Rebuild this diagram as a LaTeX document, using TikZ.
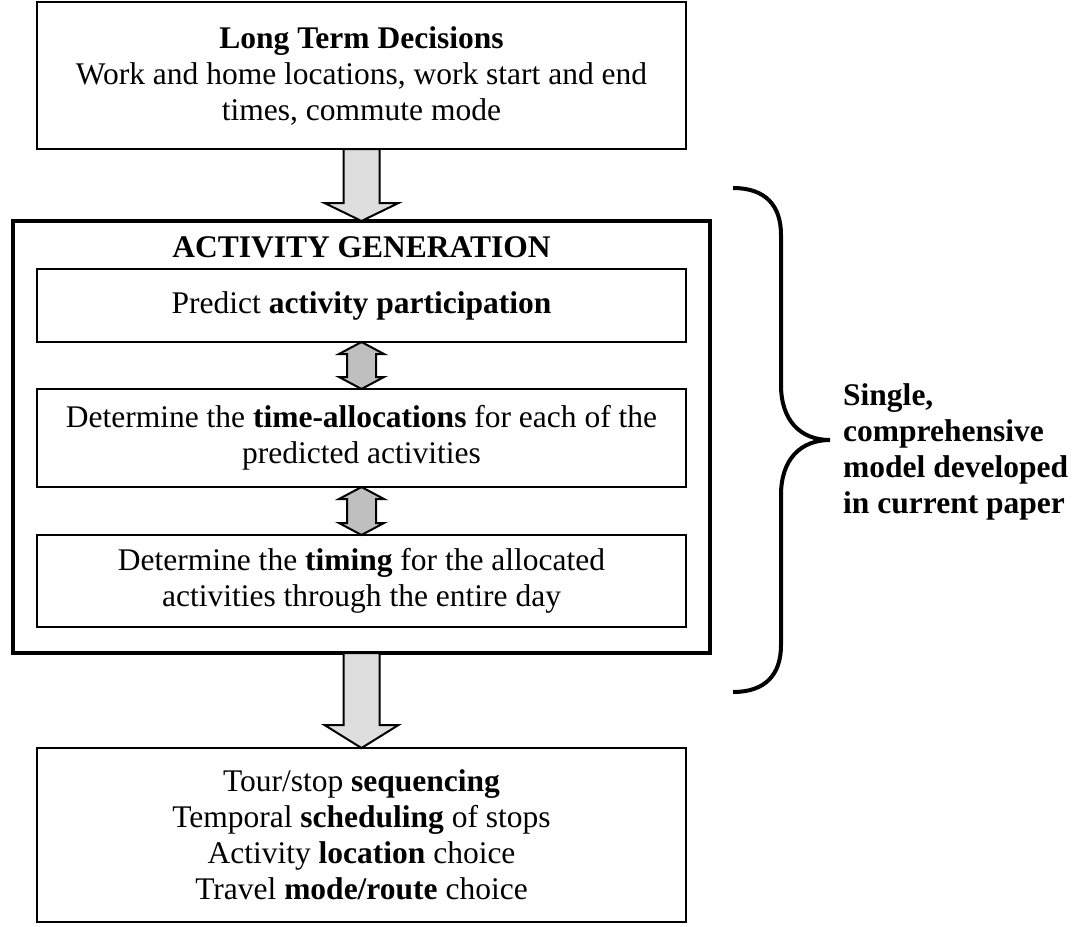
\documentclass[tikz,border=0pt]{standalone}
\usepackage{fontspec}
\setmainfont{Liberation Serif}
\usetikzlibrary{calc}
\begin{document}
\begin{tikzpicture}[x=1pt,y=-1pt,
  box/.style={draw, line width=2.2pt, outer sep=0pt, inner sep=0pt, align=center,
    font=\fontsize{31.5}{36}\selectfont},
  bigbox/.style={draw, line width=3.5pt, outer sep=0pt, inner sep=0pt},
  blockarrow/.style={draw, line width=2pt, fill=black!13, line join=miter},
  dblarrow/.style={draw, line width=2pt, fill=black!25, line join=miter},
  brace/.style={draw, line width=4pt},
  label/.style={font=\fontsize{31.5}{36}\selectfont\bfseries, align=left, inner sep=0pt}
]
\useasboundingbox (0,0) rectangle (1083,926);

\node[box, minimum width=649, minimum height=147] (top) at (361.5,75.5)
  {\textbf{Long Term Decisions}\\Work and home locations, work start and end\\times, commute mode};

\node[bigbox, minimum width=697, minimum height=432] (big) at (361.5,437) {};
\node[font=\fontsize{31.5}{36}\selectfont\bfseries, inner sep=0pt] (title) at (361.5,247) {ACTIVITY GENERATION};

\node[box, minimum width=649, minimum height=73] (s1) at (361.5,305.5)
  {Predict \textbf{activity participation}};
\node[box, minimum width=649, minimum height=98] (s2) at (361.5,438)
  {Determine the \textbf{time-allocations} for each of the\\predicted activities};
\node[box, minimum width=649, minimum height=92] (s3) at (361.5,581)
  {Determine the \textbf{timing} for the allocated\\activities through the entire day};

\node[box, minimum width=649, minimum height=174] (bot) at (361.5,835)
  {Tour/stop \textbf{sequencing}\\Temporal \textbf{scheduling} of stops\\Activity \textbf{location} choice\\Travel \textbf{mode/route} choice};

% single block arrows
\draw[blockarrow] ($(top.south)+(-18,0)$) -- ($(big.north)+(-18,-18)$) -- ($(big.north)+(-37,-18)$)
  -- (big.north) -- ($(big.north)+(37,-18)$) -- ($(big.north)+(18,-18)$) -- ($(top.south)+(18,0)$) -- cycle;
\draw[blockarrow] ($(big.south)+(-18,0)$) -- ($(bot.north)+(-18,-23)$) -- ($(bot.north)+(-37,-23)$)
  -- (bot.north) -- ($(bot.north)+(37,-23)$) -- ($(bot.north)+(18,-23)$) -- ($(big.south)+(18,0)$) -- cycle;

% double arrows
\draw[dblarrow] (s1.south) -- ($(s1.south)+(22.5,12)$) -- ($(s1.south)+(14.5,12)$) -- ($(s2.north)+(14.5,-12)$)
  -- ($(s2.north)+(22.5,-12)$) -- (s2.north) -- ($(s2.north)+(-22.5,-12)$) -- ($(s2.north)+(-14.5,-12)$)
  -- ($(s1.south)+(-14.5,12)$) -- ($(s1.south)+(-22.5,12)$) -- cycle;
\draw[dblarrow] (s2.south) -- ($(s2.south)+(22.5,12)$) -- ($(s2.south)+(14.5,12)$) -- ($(s3.north)+(14.5,-12)$)
  -- ($(s3.north)+(22.5,-12)$) -- (s3.north) -- ($(s3.north)+(-22.5,-12)$) -- ($(s3.north)+(-14.5,-12)$)
  -- ($(s2.south)+(-14.5,12)$) -- ($(s2.south)+(-22.5,12)$) -- cycle;

% brace
\coordinate (bt) at (733,188);
\coordinate (tip) at (830,440);
\coordinate (bb) at (733,692);
\draw[brace] (bt) .. controls (765,188) and (781,205) .. (781,235)
  -- (781,385) .. controls (781,420) and (800,440) .. (tip)
  .. controls (800,440) and (781,460) .. (781,495)
  -- (781,645) .. controls (781,675) and (765,692) .. (bb);

\node[label, anchor=west] (lab) at (843,452) {Single,\\comprehensive\\model developed\\in current paper};
\end{tikzpicture}
\end{document}
